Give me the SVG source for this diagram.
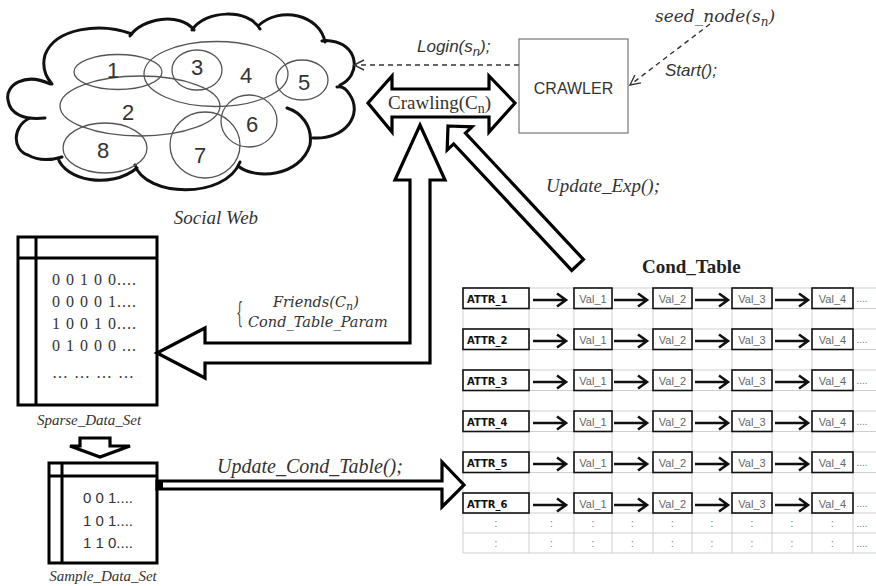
<svg xmlns="http://www.w3.org/2000/svg" xmlns:xlink="http://www.w3.org/1999/xlink" width="876" height="586" viewBox="0 0 876 586">
<style>
.bg{fill:#ffffff}
.cloud{fill:none;stroke:#111;stroke-width:3;stroke-linecap:round}
.ell{fill:none;stroke:#555;stroke-width:1.3}
.num{font-family:"Liberation Sans",Arial,sans-serif;font-size:22px;fill:#333;text-anchor:middle}
.fat{fill:#fff;stroke:#000;stroke-width:3.2;stroke-linejoin:miter}
.box{fill:#fff;stroke:#000;stroke-width:3}
.thin{fill:none;stroke:#000;stroke-width:3}
.dash{fill:none;stroke:#333;stroke-width:1.4;stroke-dasharray:5 4}
.isans{font-family:"Liberation Sans",Arial,sans-serif;font-style:italic;font-size:17px;fill:#333}
.iserif{font-family:"Liberation Serif","Times New Roman",serif;font-style:italic;fill:#333}
.math{font-family:"DejaVu Serif",serif;font-style:italic;fill:#333}
.serif{font-family:"Liberation Serif","Times New Roman",serif;fill:#333}
.grid{stroke:#cfcfcf;stroke-width:1;fill:none}
.cell{fill:#fff;stroke:#111;stroke-width:1.6}
.attr{font-family:"DejaVu Sans",Verdana,sans-serif;font-weight:bold;font-size:10px;fill:#111}
.val{font-family:"Liberation Sans",Arial,sans-serif;font-size:11px;fill:#666;text-anchor:middle}
.dots{font-family:"Liberation Sans",Arial,sans-serif;font-size:10px;fill:#777;text-anchor:middle}
.tarr{fill:none;stroke:#111;stroke-width:2.6}
</style>
<defs>
<marker id="open" viewBox="0 0 12 12" refX="11" refY="6" markerWidth="12" markerHeight="12" markerUnits="userSpaceOnUse" orient="auto">
<path d="M1,1 L11,6 L1,11" fill="none" stroke="#333" stroke-width="1.4"/>
</marker>
<path id="ta" class="tarr" d="M0,0 H33 M24,-6.5 L33,0 L24,6.5"/>
</defs>
<rect class="bg" x="0" y="0" width="876" height="586"/>

<g id="social-web">
<path class="cloud" d="M50,84 C25,72 5,85 8,100 C10,115 25,120 45,118 M30,118 C12,126 12,150 28,155 C40,162 52,160 62,157 M58,158 C65,180 110,190 137,168 M135,165 C145,197 225,200 240,162 M238,166 C255,180 300,177 310,145 C313,125 300,112 287,108 M313,138 C345,140 363,115 350,95 C346,88 341,86 337,87 M340,85 C361,75 358,48 336,42 C329,40 325,40 322,41 M325,42 C320,15 280,5 258,26 M260,29 C248,8 205,10 192,30 M194,30 C180,12 142,18 130,36 M132,34 C100,22 55,28 45,55 C42,66 45,76 52,84"/>
<ellipse class="ell" cx="140" cy="106" rx="80" ry="30"/>
<ellipse class="ell" cx="118" cy="72" rx="44" ry="17.5"/>
<ellipse class="ell" cx="216" cy="74" rx="72" ry="32.5"/>
<ellipse class="ell" cx="197" cy="70" rx="25" ry="20"/>
<ellipse class="ell" cx="302" cy="80" rx="26" ry="20"/>
<ellipse class="ell" cx="249" cy="121" rx="28" ry="26"/>
<ellipse class="ell" cx="205" cy="145" rx="35" ry="33"/>
<ellipse class="ell" cx="105" cy="148" rx="42" ry="25"/>
<text class="num" x="113" y="78">1</text>
<text class="num" x="197" y="75">3</text>
<text class="num" x="246" y="83">4</text>
<text class="num" x="304" y="90">5</text>
<text class="num" x="128" y="120">2</text>
<text class="num" x="252" y="132">6</text>
<text class="num" x="200" y="163">7</text>
<text class="num" x="103" y="158">8</text>
<text class="iserif" x="216" y="224" font-size="19" text-anchor="middle">Social Web</text>
</g>

<g id="crawler">
<rect x="519" y="39" width="109" height="94" fill="#fff" stroke="#777" stroke-width="1.2"/>
<text x="573.5" y="94" font-family="'Liberation Sans',Arial,sans-serif" font-size="16" fill="#333" text-anchor="middle">CRAWLER</text>
</g>

<g id="seed-node">
<text class="math" x="655" y="22" font-size="17">seed_node(s<tspan font-size="12" dy="4">n</tspan><tspan dy="-4">)</tspan></text>
</g>

<g id="crawling">
<polygon class="fat" points="368,103 392,76 392,89 489,89 489,76 515,103 489,132 489,117 392,117 392,132"/>
<text class="serif" x="388" y="109" font-size="19" fill="#444">Crawling(C<tspan font-size="14" dy="4">n</tspan><tspan dy="-4">)</tspan></text>
</g>

<g id="sparse-data-set">
<rect class="box" x="18" y="237" width="139" height="168"/>
<path class="thin" d="M36,237 V405 M18,258 H157"/>
<g class="serif" font-size="16" fill="#333" letter-spacing="1">
<text x="52" y="285">0 0 1 0 0....</text>
<text x="52" y="307">0 0 0 0 1....</text>
<text x="52" y="329">1 0 0 1 0....</text>
<text x="52" y="351">0 1 0 0 0 ...</text>
<text x="52" y="378">… … … …</text>
</g>
<text class="iserif" x="89" y="425" font-size="15" text-anchor="middle">Sparse_Data_Set</text>
</g>

<g id="sample-data-set">
<rect class="box" x="49" y="463" width="108" height="100"/>
<path class="thin" d="M62,463 V563 M49,476 H157"/>
<g font-family="'Liberation Sans',Arial,sans-serif" font-size="15" fill="#333">
<text x="83" y="503">0 0 1....</text>
<text x="83" y="526">1 0 1....</text>
<text x="83" y="548">1 1 0....</text>
</g>
<text class="iserif" x="103" y="581" font-size="15" text-anchor="middle">Sample_Data_Set</text>
</g>

<g id="cond-table">
<text x="642" y="273" font-family="'Liberation Serif','Times New Roman',serif" font-weight="bold" font-size="19" fill="#222">Cond_Table</text>
<path class="grid" d="M463,288 V553 M529,288 V553 M574,288 V553 M612,288 V553 M653,288 V553 M692,288 V553 M732,288 V553 M772,288 V553 M812,288 V553 M853,288 V553 M463,288 H876 M463,308.5 H876 M463,329 H876 M463,349.5 H876 M463,370 H876 M463,390.5 H876 M463,411 H876 M463,431.5 H876 M463,452 H876 M463,472.5 H876 M463,493 H876 M463,513 H876 M463,533 H876 M463,553 H876"/>
<g id="row1" transform="translate(0,288)">
<rect class="cell" x="463" y="0" width="66" height="20.5"/><text class="attr" x="467" y="14.5">ATTR_1</text>
<rect class="cell" x="574" y="0" width="38" height="20.5"/><text class="val" x="593" y="14.5">Val_1</text>
<rect class="cell" x="653" y="0" width="39" height="20.5"/><text class="val" x="672.5" y="14.5">Val_2</text>
<rect class="cell" x="732" y="0" width="40" height="20.5"/><text class="val" x="752" y="14.5">Val_3</text>
<rect class="cell" x="812" y="0" width="41" height="20.5"/><text class="val" x="832.5" y="14.5">Val_4</text>
<text class="dots" x="862" y="14">....</text>
</g>
<g id="row2" transform="translate(0,329)">
<rect class="cell" x="463" y="0" width="66" height="20.5"/><text class="attr" x="467" y="14.5">ATTR_2</text>
<rect class="cell" x="574" y="0" width="38" height="20.5"/><text class="val" x="593" y="14.5">Val_1</text>
<rect class="cell" x="653" y="0" width="39" height="20.5"/><text class="val" x="672.5" y="14.5">Val_2</text>
<rect class="cell" x="732" y="0" width="40" height="20.5"/><text class="val" x="752" y="14.5">Val_3</text>
<rect class="cell" x="812" y="0" width="41" height="20.5"/><text class="val" x="832.5" y="14.5">Val_4</text>
<text class="dots" x="862" y="14">....</text>
</g>
<g id="row3" transform="translate(0,370)">
<rect class="cell" x="463" y="0" width="66" height="20.5"/><text class="attr" x="467" y="14.5">ATTR_3</text>
<rect class="cell" x="574" y="0" width="38" height="20.5"/><text class="val" x="593" y="14.5">Val_1</text>
<rect class="cell" x="653" y="0" width="39" height="20.5"/><text class="val" x="672.5" y="14.5">Val_2</text>
<rect class="cell" x="732" y="0" width="40" height="20.5"/><text class="val" x="752" y="14.5">Val_3</text>
<rect class="cell" x="812" y="0" width="41" height="20.5"/><text class="val" x="832.5" y="14.5">Val_4</text>
<text class="dots" x="862" y="14">....</text>
</g>
<g id="row4" transform="translate(0,411)">
<rect class="cell" x="463" y="0" width="66" height="20.5"/><text class="attr" x="467" y="14.5">ATTR_4</text>
<rect class="cell" x="574" y="0" width="38" height="20.5"/><text class="val" x="593" y="14.5">Val_1</text>
<rect class="cell" x="653" y="0" width="39" height="20.5"/><text class="val" x="672.5" y="14.5">Val_2</text>
<rect class="cell" x="732" y="0" width="40" height="20.5"/><text class="val" x="752" y="14.5">Val_3</text>
<rect class="cell" x="812" y="0" width="41" height="20.5"/><text class="val" x="832.5" y="14.5">Val_4</text>
<text class="dots" x="862" y="14">....</text>
</g>
<g id="row5" transform="translate(0,452)">
<rect class="cell" x="463" y="0" width="66" height="20.5"/><text class="attr" x="467" y="14.5">ATTR_5</text>
<rect class="cell" x="574" y="0" width="38" height="20.5"/><text class="val" x="593" y="14.5">Val_1</text>
<rect class="cell" x="653" y="0" width="39" height="20.5"/><text class="val" x="672.5" y="14.5">Val_2</text>
<rect class="cell" x="732" y="0" width="40" height="20.5"/><text class="val" x="752" y="14.5">Val_3</text>
<rect class="cell" x="812" y="0" width="41" height="20.5"/><text class="val" x="832.5" y="14.5">Val_4</text>
<text class="dots" x="862" y="14">....</text>
</g>
<g id="row6" transform="translate(0,493)">
<rect class="cell" x="463" y="0" width="66" height="20"/><text class="attr" x="467" y="14.5">ATTR_6</text>
<rect class="cell" x="574" y="0" width="38" height="20"/><text class="val" x="593" y="14.5">Val_1</text>
<rect class="cell" x="653" y="0" width="39" height="20"/><text class="val" x="672.5" y="14.5">Val_2</text>
<rect class="cell" x="732" y="0" width="40" height="20"/><text class="val" x="752" y="14.5">Val_3</text>
<rect class="cell" x="812" y="0" width="41" height="20"/><text class="val" x="832.5" y="14.5">Val_4</text>
<text class="dots" x="862" y="14">....</text>
</g>
<g id="row-more1" class="dots" transform="translate(0,527)">
<text x="496">:</text><text x="551.5">:</text><text x="593">:</text><text x="632.5">:</text><text x="672.5">:</text><text x="712">:</text><text x="752">:</text><text x="792">:</text><text x="832.5">:</text><text x="862">....</text>
</g>
<g id="row-more2" class="dots" transform="translate(0,547)">
<text x="496">:</text><text x="551.5">:</text><text x="593">:</text><text x="632.5">:</text><text x="672.5">:</text><text x="712">:</text><text x="752">:</text><text x="792">:</text><text x="832.5">:</text><text x="862">....</text>
</g>
</g>

<g id="connectors">
<line class="dash" x1="519" y1="65" x2="354" y2="65" marker-end="url(#open)"/>
<text class="isans" x="417" y="52">Login(s<tspan font-size="13" dy="4">n</tspan><tspan dy="-4">);</tspan></text>
<line class="dash" x1="710" y1="24" x2="630" y2="85" marker-end="url(#open)"/>
<text class="isans" x="665" y="76">Start();</text>

<polygon class="fat" transform="translate(448,126) rotate(47)" points="0,0 17,-17 17,-8 190,-8 190,8 17,8 17,17"/>
<text class="iserif" x="546" y="192" font-size="19">Update_Exp();</text>

<polygon class="fat" points="420,125 445,180 430,180 430,363 205,363 205,378 157,353 205,328 205,343 410,343 410,180 395,180"/>
<text x="0" y="0" font-family="'DejaVu Serif',serif" font-size="28" fill="#444" transform="translate(236,322) scale(0.4,1)">{</text>
<text class="math" x="273" y="307" font-size="14.5">Friends(C<tspan font-size="11" dy="3">n</tspan><tspan dy="-3">)</tspan></text>
<text class="math" x="248" y="327" font-size="14.5">Cond_Table_Param</text>

<polygon class="fat" points="80,438 110,438 110,446 130,446 100,457 70,446 80,446"/>

<polygon class="fat" points="157,481 442,481 442,462 464,485 442,507 442,489 157,489"/>
<rect x="157" y="480" width="6" height="10" fill="#000"/>
<text class="iserif" x="217" y="473" font-size="20">Update_Cond_Table();</text>

<use xlink:href="#ta" x="533" y="300"/><use xlink:href="#ta" x="614" y="300"/><use xlink:href="#ta" x="695" y="300"/><use xlink:href="#ta" x="775" y="300"/>
<use xlink:href="#ta" x="533" y="341"/><use xlink:href="#ta" x="614" y="341"/><use xlink:href="#ta" x="695" y="341"/><use xlink:href="#ta" x="775" y="341"/>
<use xlink:href="#ta" x="533" y="382"/><use xlink:href="#ta" x="614" y="382"/><use xlink:href="#ta" x="695" y="382"/><use xlink:href="#ta" x="775" y="382"/>
<use xlink:href="#ta" x="533" y="423"/><use xlink:href="#ta" x="614" y="423"/><use xlink:href="#ta" x="695" y="423"/><use xlink:href="#ta" x="775" y="423"/>
<use xlink:href="#ta" x="533" y="464"/><use xlink:href="#ta" x="614" y="464"/><use xlink:href="#ta" x="695" y="464"/><use xlink:href="#ta" x="775" y="464"/>
<use xlink:href="#ta" x="533" y="505"/><use xlink:href="#ta" x="614" y="505"/><use xlink:href="#ta" x="695" y="505"/><use xlink:href="#ta" x="775" y="505"/>
</g>
</svg>
